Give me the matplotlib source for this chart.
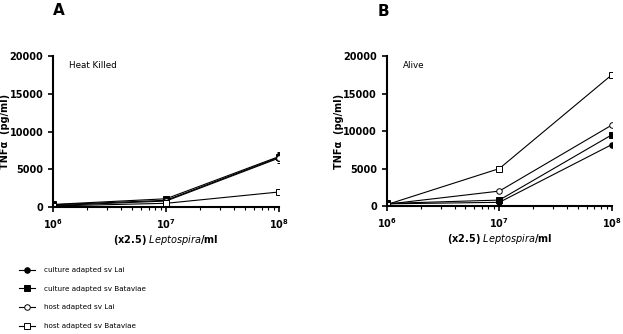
import numpy as np
import matplotlib.pyplot as plt
from matplotlib.lines import Line2D

# bacteria per ml (x2.5)
dose = [1e6, 1e7, 1e8]

series = ['culture adapted sv Lai', 'culture adapted sv Bataviae',
          'host adapted sv Lai', 'host adapted sv Bataviae']
markers = ['o', 's', 'o', 's']
filled = [True, True, False, False]

# TNF-alpha (pg/ml), heat killed
killed = [
    [300, 900, 6600],
    [350, 1100, 6700],
    [200, 800, 6500],
    [150, 500, 2000],
]
killed_err = [
    [50, 100, 700],
    [50, 150, 500],
    [30, 100, 400],
    [20, 50, 100],
]

# TNF-alpha (pg/ml), alive
alive = [
    [300, 500, 8200],
    [350, 800, 9500],
    [250, 2000, 10800],
    [200, 5000, 17500],
]
alive_err = [
    [30, 50, 200],
    [30, 80, 250],
    [30, 100, 200],
    [30, 120, 300],
]

fig = plt.figure(figsize=(6.23, 3.34), dpi=100)
ax_a = fig.add_axes([0.085, 0.380, 0.363, 0.452])
ax_b = fig.add_axes([0.621, 0.383, 0.361, 0.449])


def draw_panel(ax, data, err, note, letter, lx):
    for vals, e, m, f in zip(data, err, markers, filled):
        ax.errorbar(dose, vals, yerr=e, color='black', lw=0.8, marker=m,
                    markersize=4, markerfacecolor='black' if f else 'white',
                    markeredgecolor='black', markeredgewidth=0.7,
                    capsize=1.5, elinewidth=0.6)
    ax.set_xscale('log')
    ax.set_xlim(1e6, 1e8)
    ax.set_ylim(0, 20000)
    ax.set_yticks([0, 5000, 10000, 15000, 20000])
    for s in ['top', 'right']:
        ax.spines[s].set_visible(False)
    for s in ['left', 'bottom']:
        ax.spines[s].set_linewidth(1.5)
    ax.tick_params(axis='both', which='major', direction='out', width=1.2,
                   length=3.5, labelsize=7)
    ax.tick_params(axis='x', which='minor', direction='out', width=0.8, length=2)
    for lab in ax.get_xticklabels() + ax.get_yticklabels():
        lab.set_fontweight('bold')
    ax.set_ylabel('TNF\u03b1  (pg/ml)', fontsize=7, fontweight='bold')
    ax.yaxis.set_label_coords(-0.19, 0.5)
    ax.set_xlabel(r'(x2.5) $\mathbf{\mathit{Leptospira}}$/ml', fontsize=7,
                  fontweight='bold')
    ax.xaxis.set_label_coords(0.5, -0.17)
    ax.text(0.07, 0.94, note, transform=ax.transAxes, fontsize=6.3, va='center')
    ax.text(lx, 1.30, letter, transform=ax.transAxes, fontsize=11,
            fontweight='bold', va='center')


draw_panel(ax_a, killed, killed_err, 'Heat Killed', 'A', 0.0)
draw_panel(ax_b, alive, alive_err, 'Alive', 'B', -0.04)

handles = [Line2D([], [], color='black', lw=0.8, marker=m, markersize=4,
                  markerfacecolor='black' if f else 'white',
                  markeredgecolor='black', markeredgewidth=0.7)
           for m, f in zip(markers, filled)]
fig.legend(handles, series, loc='lower left', bbox_to_anchor=(0.02, -0.005),
           frameon=False, fontsize=5.2, handlelength=2.2, labelspacing=1.75,
           handletextpad=1.3)

fig.savefig('out.png', dpi=100)
